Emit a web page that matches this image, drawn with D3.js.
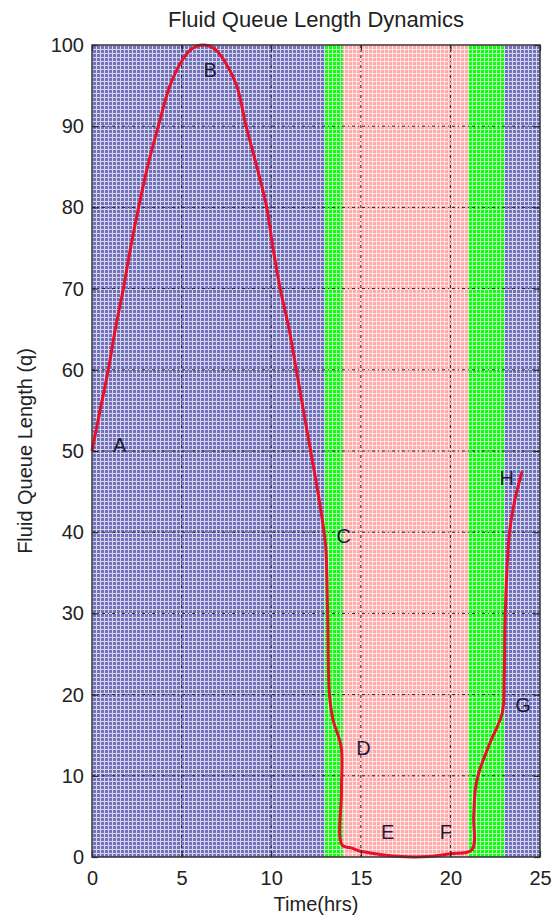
<!DOCTYPE html>
<html>
<head>
  <meta charset="UTF-8">
  <title>Fluid Queue Length Dynamics</title>
  <style>
    body { margin: 0; background: #fff; }
    text { font-family: "Liberation Sans", Arial, sans-serif; fill: #222; }
  </style>
</head>
<body>
  <script src="https://cdn.jsdelivr.net/npm/d3@7"></script>
  <script>
    const width = 552,
      height = 918
    const margin = { top: 45, right: 12, bottom: 61, left: 92 }

    // data
    const xTicks = [0, 5, 10, 15, 20, 25]
    const yTicks = [0, 10, 20, 30, 40, 50, 60, 70, 80, 90, 100]
    const bandStart = [0, 13, 14, 21, 23]
    const bandEnd = [13, 14, 21, 23, 25]
    const bandKind = ['blue', 'green', 'pink', 'green', 'blue']
    const timeHrs = [0, 0.45, 0.91, 1.3, 1.75, 2.15, 2.6, 3.1, 3.7, 4.35, 5.0, 5.55, 6.2, 6.85, 7.4, 8.07, 8.6, 9.2, 9.75, 10.1, 10.5, 11.0, 11.4, 11.8, 12.2, 12.6, 12.95, 13.05, 13.15, 13.25, 13.45, 13.9, 13.92, 13.95, 14.5, 15, 16, 17, 18, 19, 20, 21.2, 21.3, 21.4, 21.6, 22.2, 22.9, 23.0, 23.06, 23.3, 23.6, 24.0]
    const queueLen = [50, 55, 60, 65, 70, 75, 80, 85, 90, 95, 98, 99.5, 100, 99.5, 98, 95, 90, 85, 80, 75, 70, 65, 60, 55, 50, 45, 40, 38, 30, 20, 16.9, 13.6, 8, 1.5, 1.1, 0.7, 0.35, 0.1, 0, 0.1, 0.4, 0.9, 5, 8.5, 10.5, 14, 17.8, 22, 30, 40, 44, 47.5]
    const pointNames = ['A', 'B', 'C', 'D', 'E', 'F', 'G', 'H']
    const pointTime = [1.55, 6.6, 14.05, 15.15, 16.5, 19.75, 24.05, 23.15]
    const pointQueue = [50.8, 96.9, 39.5, 13.4, 3.1, 3.1, 18.8, 46.7]

    const fills = { blue: '#7272bc', green: '#10ff10', pink: '#ffaaaa' }

    const svg = d3.select('body')
      .append('svg')
      .attr('width', width)
      .attr('height', height)

    const plotW = width - margin.left - margin.right,
      plotH = height - margin.top - margin.bottom

    const xScale = d3.scaleLinear().domain([0, 25]).range([0, plotW])
    const yScale = d3.scaleLinear().domain([0, 100]).range([plotH, 0])

    const defs = svg.append('defs')
    Object.keys(fills).forEach(k => {
      const p = defs.append('pattern')
        .attr('id', 'hatch-' + k)
        .attr('width', 4)
        .attr('height', 4)
        .attr('patternUnits', 'userSpaceOnUse')
      p.append('rect').attr('width', 4).attr('height', 4).attr('fill', fills[k])
      p.append('path')
        .attr('d', 'M0,0.5H4M0.5,1V4')
        .attr('stroke', '#fff')
        .attr('stroke-width', 1)
        .attr('stroke-opacity', 0.7)
    })

    const g = svg.append('g')
      .attr('transform', `translate(${margin.left}, ${margin.top})`)

    // background bands
    g.selectAll('rect.band')
      .data(bandKind.map((k, i) => ({ k, x0: bandStart[i], x1: bandEnd[i] })))
      .enter()
      .append('rect')
      .classed('band', true)
      .attr('x', d => xScale(d.x0))
      .attr('width', d => xScale(d.x1) - xScale(d.x0))
      .attr('y', yScale(100))
      .attr('height', yScale(0) - yScale(100))
      .attr('fill', d => `url(#hatch-${d.k})`)

    // grid
    g.selectAll('line.vgrid')
      .data(xTicks.slice(1, -1))
      .enter()
      .append('line')
      .attr('x1', d => xScale(d)).attr('x2', d => xScale(d))
      .attr('y1', 0).attr('y2', plotH)
      .attr('stroke', '#222')
      .attr('stroke-dasharray', '3,3,1,3')

    g.selectAll('line.hgrid')
      .data(yTicks.slice(1, -1))
      .enter()
      .append('line')
      .attr('y1', d => yScale(d)).attr('y2', d => yScale(d))
      .attr('x1', 0).attr('x2', plotW)
      .attr('stroke', '#222')
      .attr('stroke-dasharray', '3,3,1,3')

    // curve
    const line = d3.line()
      .x(d => xScale(d[0]))
      .y(d => yScale(d[1]))
      .curve(d3.curveCatmullRom.alpha(0.5))

    g.append('path')
      .datum(timeHrs.map((t, i) => [t, queueLen[i]]))
      .attr('d', line)
      .attr('fill', 'none')
      .attr('stroke', '#e8102a')
      .attr('stroke-width', 3)
      .attr('stroke-linejoin', 'round')

    // point labels
    g.selectAll('text.pt')
      .data(pointNames)
      .enter()
      .append('text')
      .attr('x', (d, i) => xScale(pointTime[i]))
      .attr('y', (d, i) => yScale(pointQueue[i]))
      .attr('text-anchor', 'middle')
      .attr('dy', '0.36em')
      .style('font-size', '20px')
      .style('fill', '#1c1c3c')
      .text(d => d)

    // axes
    const styleAxis = sel => {
      sel.select('.domain').remove()
      sel.selectAll('.tick line').attr('stroke', '#222').attr('stroke-width', 1.2)
      sel.selectAll('text').style('font-size', '20px').style('fill', '#222')
    }

    g.append('g')
      .attr('transform', `translate(0, ${plotH})`)
      .call(d3.axisBottom(xScale).tickValues(xTicks).tickSize(-6).tickPadding(14))
      .call(styleAxis)

    g.append('g')
      .call(d3.axisLeft(yScale).tickValues(yTicks).tickSize(-6).tickPadding(8))
      .call(styleAxis)

    g.append('g')
      .call(d3.axisTop(xScale).tickValues(xTicks).tickSize(-6).tickFormat(''))
      .call(styleAxis)

    g.append('g')
      .attr('transform', `translate(${plotW}, 0)`)
      .call(d3.axisRight(yScale).tickValues(yTicks).tickSize(-6).tickFormat(''))
      .call(styleAxis)

    g.append('rect')
      .attr('width', plotW)
      .attr('height', plotH)
      .attr('fill', 'none')
      .attr('stroke', '#333')
      .attr('stroke-width', 1.5)

    // titles
    svg.append('text')
      .attr('x', margin.left + plotW / 2)
      .attr('y', 27)
      .attr('text-anchor', 'middle')
      .style('font-size', '22px')
      .text('Fluid Queue Length Dynamics')

    svg.append('text')
      .attr('x', margin.left + plotW / 2)
      .attr('y', 911)
      .attr('text-anchor', 'middle')
      .style('font-size', '20px')
      .text('Time(hrs)')

    svg.append('text')
      .attr('transform', `translate(32, ${margin.top + plotH / 2}) rotate(-90)`)
      .attr('text-anchor', 'middle')
      .style('font-size', '20px')
      .text('Fluid Queue Length (q)')
  </script>
</body>
</html>
